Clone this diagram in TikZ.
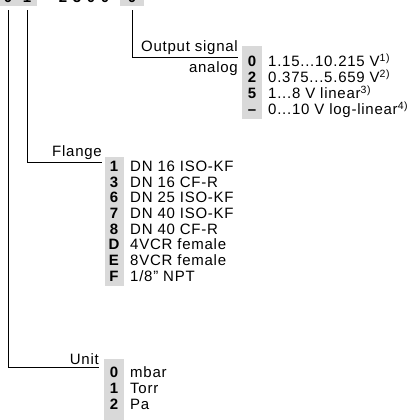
\documentclass[tikz,border=0pt]{standalone}
\usepackage{fontspec}
\setmainfont{Liberation Sans}[LetterSpace=5]
\newcommand\supnote[1]{\textsuperscript{#1}}
\begin{document}
\begin{tikzpicture}[x=1pt,y=-1pt,
  txt/.style={font=\fontsize{15}{17}\selectfont, inner sep=0pt},
  codechar/.style={font=\fontsize{15}{17}\selectfont\bfseries, inner sep=0pt, anchor=base},
  shade/.style={fill=black!15, draw=none},
  conn/.style={line width=0.75pt, draw=black},
  lbl/.style={txt, inner ysep=2pt, anchor=south east}]
\useasboundingbox (0,0) rectangle (413,420);
\clip (0,0) rectangle (413,420);
% top code row (cut off)
\fill[shade] (0,-12) rectangle (37,6);
\fill[shade] (120,-12) rectangle (144,6);
\node[codechar] (k1) at (8,3) {0};
\node[codechar] (k2) at (27,3) {1};
\node[codechar] (k3) at (63,3) {2};
\node[codechar] (k4) at (77,3) {3};
\node[codechar] (k5) at (91,3) {0};
\node[codechar] (k6) at (105,3) {0};
\node[codechar] (k7) at (132,3) {0};
% output signal
\fill[shade] (242,46) rectangle (262,119);
\node[lbl] (outlbl) at (238,57) {Output signal};
\node[txt, anchor=base east] (outlbl2) at (238,73) {analog};
\foreach \c/\t [count=\i] in {0/{1.15...10.215 V\supnote{1)}},2/{0.375...5.659 V\supnote{2)}},5/{1...8 V linear\supnote{3)}},–/{0...10 V log-linear\supnote{4)}}}{
  \node[codechar] (oc\i) at (252,{66.4+16*(\i-1)}) {\c};
  \node[txt, anchor=base west] (ot\i) at (268,{66.4+16*(\i-1)}) {\t};
}
% flange
\fill[shade] (105,157) rectangle (124,286);
\node[lbl] (flglbl) at (102,162) {Flange};
\foreach \c/\t [count=\i] in {1/{DN 16 ISO-KF},3/{DN 16 CF-R},6/{DN 25 ISO-KF},7/{DN 40 ISO-KF},8/{DN 40 CF-R},D/{4VCR female},E/{8VCR female},F/{1/8" NPT}}{
  \node[codechar] (fc\i) at (114,{171.4+15.7*(\i-1)}) {\c};
  \node[txt, anchor=base west] (ft\i) at (130,{171.4+15.7*(\i-1)}) {\t};
}
% unit
\fill[shade] (104,359) rectangle (124,430);
\node[lbl] (unitlbl) at (99,367) {Unit};
\foreach \c/\t [count=\i] in {0/mbar,1/Torr,2/Pa}{
  \node[codechar] (uc\i) at (114,{377.4+16*(\i-1)}) {\c};
  \node[txt, anchor=base west] (ut\i) at (130,{377.4+16*(\i-1)}) {\t};
}
% connectors
\draw[conn] ([yshift=-7pt]k1.south) |- (unitlbl.south east);
\draw[conn] ([yshift=-7pt]k2.south) |- (flglbl.south east);
\draw[conn] ([yshift=-7pt]k7.south) |- (outlbl.south east);
\end{tikzpicture}
\end{document}
